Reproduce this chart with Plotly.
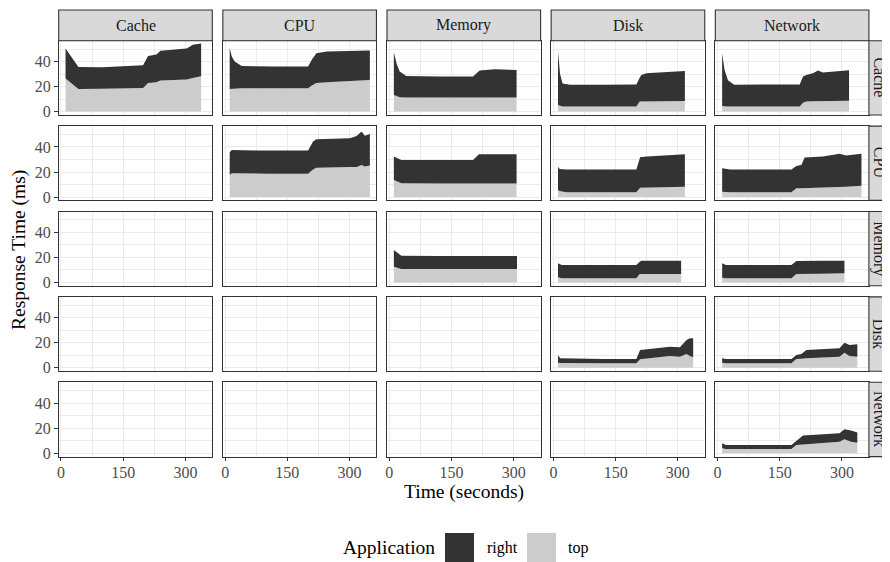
import plotly.graph_objects as go

FACETS = ["Cache", "CPU", "Memory", "Disk", "Network"]
APPS = ["right", "top"]
TIME_TICKS = [0, 150, 300]
TIME_MINOR = [75, 225]
RT_TICKS = [0, 20, 40]
RT_MINOR = [10, 30, 50]

# ---- row "Cache" ----
CACHE_CACHE_T = [11, 20, 42, 100, 150, 198, 210, 230, 240, 303, 318, 338]
CACHE_CACHE_TOP = [26.5, 24.1, 18.1, 18.3, 18.5, 18.9, 22.9, 23.5, 24.8, 25.6, 26.8, 28.3]
CACHE_CACHE_RIGHT = [24.0, 22.1, 17.5, 17.2, 18.0, 18.1, 21.6, 22.1, 23.8, 24.9, 26.7, 26.2]

CACHE_CPU_T = [11, 16, 23, 40, 120, 200, 210, 220, 245, 300, 349]
CACHE_CPU_TOP = [18.1, 18.3, 18.5, 18.7, 18.7, 18.7, 21.0, 22.8, 23.5, 24.3, 25.3]
CACHE_CPU_RIGHT = [32.6, 25.7, 21.5, 17.8, 17.3, 17.3, 21.0, 23.9, 24.5, 24.2, 23.5]

CACHE_MEMORY_T = [11, 18, 25, 41, 120, 202, 218, 254, 307]
CACHE_MEMORY_TOP = [13.3, 12.3, 11.5, 11.2, 11.2, 11.2, 11.2, 11.2, 11.2]
CACHE_MEMORY_RIGHT = [33.9, 25.7, 20.5, 17.3, 16.8, 16.8, 21.6, 22.7, 22.1]

CACHE_DISK_T = [11, 16, 22, 40, 120, 200, 208, 212, 224, 317]
CACHE_DISK_TOP = [5.3, 4.5, 4.0, 4.0, 4.0, 4.0, 8.0, 8.0, 8.2, 8.5]
CACHE_DISK_RIGHT = [42.7, 25.5, 18.5, 17.5, 17.5, 17.7, 19.0, 21.3, 22.5, 24.0]

CACHE_NETWORK_T = [11, 17, 25, 40, 120, 198, 206, 214, 230, 242, 254, 317]
CACHE_NETWORK_TOP = [4.5, 4.2, 4.0, 4.0, 4.0, 4.0, 7.0, 8.0, 8.2, 8.3, 8.3, 8.7]
CACHE_NETWORK_RIGHT = [42.1, 28.8, 21.0, 17.5, 17.6, 17.6, 21.0, 21.3, 22.5, 24.5, 22.9, 24.3]

# ---- row "CPU" ----
CPU_CPU_T = [11, 16, 100, 200, 212, 220, 301, 317, 329, 337, 349]
CPU_CPU_TOP = [17.6, 19.0, 18.7, 18.7, 22.0, 23.5, 24.0, 24.0, 25.6, 24.4, 25.2]
CPU_CPU_RIGHT = [18.2, 18.6, 18.4, 18.4, 22.3, 22.7, 22.9, 24.8, 26.7, 24.5, 25.2]

CPU_MEMORY_T = [11, 29, 120, 202, 216, 260, 307]
CPU_MEMORY_TOP = [13.6, 11.0, 10.9, 10.9, 10.9, 10.9, 10.9]
CPU_MEMORY_RIGHT = [18.7, 18.6, 18.7, 18.7, 23.3, 23.5, 23.3]

CPU_DISK_T = [11, 15, 30, 120, 200, 209, 225, 317]
CPU_DISK_TOP = [5.6, 4.8, 3.8, 3.8, 3.8, 7.5, 7.6, 8.3]
CPU_DISK_RIGHT = [18.7, 17.6, 18.3, 18.3, 18.3, 24.3, 24.7, 25.9]

CPU_NETWORK_T = [11, 30, 178, 190, 202, 210, 254, 294, 310, 347]
CPU_NETWORK_TOP = [4.3, 3.8, 3.8, 7.0, 7.1, 7.2, 7.5, 7.8, 8.2, 9.1]
CPU_NETWORK_RIGHT = [18.7, 18.3, 18.3, 17.8, 18.5, 24.3, 24.8, 26.7, 25.0, 25.4]

# ---- row "Memory" ----
MEMORY_MEMORY_T = [11, 29, 120, 200, 308]
MEMORY_MEMORY_TOP = [12.6, 10.8, 10.8, 10.8, 10.8]
MEMORY_MEMORY_RIGHT = [13.4, 10.6, 10.4, 10.6, 10.4]

MEMORY_DISK_T = [11, 20, 120, 200, 208, 212, 308]
MEMORY_DISK_TOP = [4.1, 3.3, 3.3, 3.3, 6.8, 6.8, 6.8]
MEMORY_DISK_RIGHT = [11.2, 10.7, 10.7, 10.7, 9.7, 10.6, 10.6]

MEMORY_NETWORK_T = [11, 20, 178, 190, 250, 306]
MEMORY_NETWORK_TOP = [3.8, 3.3, 3.3, 6.8, 7.0, 7.3]
MEMORY_NETWORK_RIGHT = [11.5, 10.7, 10.7, 10.4, 10.4, 10.1]

# ---- row "Disk" ----
DISK_DISK_T = [11, 16, 120, 200, 209, 249, 281, 305, 321, 329, 337]
DISK_DISK_TOP = [4.1, 3.8, 3.6, 3.6, 6.8, 8.0, 9.5, 8.9, 11.1, 9.5, 8.4]
DISK_DISK_RIGHT = [6.2, 3.8, 3.5, 3.5, 7.5, 7.6, 7.4, 7.5, 11.2, 14.1, 15.2]

DISK_NETWORK_T = [11, 20, 178, 190, 202, 214, 294, 306, 318, 337]
DISK_NETWORK_TOP = [4.1, 3.6, 3.6, 7.1, 7.3, 7.6, 8.9, 12.1, 9.5, 8.9]
DISK_NETWORK_RIGHT = [3.5, 3.5, 3.5, 3.2, 3.8, 6.7, 6.7, 8.0, 8.8, 9.9]

# ---- row "Network" ----
NETWORK_NETWORK_T = [11, 20, 178, 190, 206, 294, 306, 322, 337]
NETWORK_NETWORK_TOP = [3.9, 3.3, 3.3, 6.6, 7.0, 9.2, 11.1, 9.2, 8.4]
NETWORK_NETWORK_RIGHT = [4.0, 3.3, 3.3, 3.5, 7.1, 6.7, 8.0, 8.9, 8.1]

PANELS = {
    ("Cache", "Cache"): (CACHE_CACHE_T, CACHE_CACHE_TOP, CACHE_CACHE_RIGHT),
    ("Cache", "CPU"): (CACHE_CPU_T, CACHE_CPU_TOP, CACHE_CPU_RIGHT),
    ("Cache", "Memory"): (CACHE_MEMORY_T, CACHE_MEMORY_TOP, CACHE_MEMORY_RIGHT),
    ("Cache", "Disk"): (CACHE_DISK_T, CACHE_DISK_TOP, CACHE_DISK_RIGHT),
    ("Cache", "Network"): (CACHE_NETWORK_T, CACHE_NETWORK_TOP, CACHE_NETWORK_RIGHT),
    ("CPU", "CPU"): (CPU_CPU_T, CPU_CPU_TOP, CPU_CPU_RIGHT),
    ("CPU", "Memory"): (CPU_MEMORY_T, CPU_MEMORY_TOP, CPU_MEMORY_RIGHT),
    ("CPU", "Disk"): (CPU_DISK_T, CPU_DISK_TOP, CPU_DISK_RIGHT),
    ("CPU", "Network"): (CPU_NETWORK_T, CPU_NETWORK_TOP, CPU_NETWORK_RIGHT),
    ("Memory", "Memory"): (MEMORY_MEMORY_T, MEMORY_MEMORY_TOP, MEMORY_MEMORY_RIGHT),
    ("Memory", "Disk"): (MEMORY_DISK_T, MEMORY_DISK_TOP, MEMORY_DISK_RIGHT),
    ("Memory", "Network"): (MEMORY_NETWORK_T, MEMORY_NETWORK_TOP, MEMORY_NETWORK_RIGHT),
    ("Disk", "Disk"): (DISK_DISK_T, DISK_DISK_TOP, DISK_DISK_RIGHT),
    ("Disk", "Network"): (DISK_NETWORK_T, DISK_NETWORK_TOP, DISK_NETWORK_RIGHT),
    ("Network", "Network"): (NETWORK_NETWORK_T, NETWORK_NETWORK_TOP, NETWORK_NETWORK_RIGHT),
}

# ---------------- styling / layout ----------------
PAGE_OFF = 8          # default body margin of the html page
W, H = 890 - PAGE_OFF, 562 - PAGE_OFF
FONT = "Liberation Serif"
DARK = "#333333"
LIGHT = "#CCCCCC"
GRID = "#EBEBEB"
BORDER = "#333333"
STRIP_FILL = "#D9D9D9"

COL_LEFT0, COL_STEP, PANEL_W = 58.7, 164.15, 153.6
ROW_TOP0, ROW_STEP, PANEL_H = 40.7, 85.4, 74.3
STRIP_TOP = 10.0
RIGHT_STRIP_W = 22.0


def px_x(p):
    return (p - PAGE_OFF) / W


def px_y(p):
    return 1 - (p - PAGE_OFF) / H


fig = go.Figure()
layout = dict(
    width=W, height=H,
    margin=dict(l=0, r=0, t=0, b=0),
    paper_bgcolor="white", plot_bgcolor="white",
    showlegend=False,
    font=dict(family=FONT, size=16, color="#4D4D4D"),
)

shapes = []
annotations = []

for r, row_name in enumerate(FACETS):
    for c, col_name in enumerate(FACETS):
        n = r * 5 + c + 1
        xname = "xaxis" if n == 1 else f"xaxis{n}"
        yname = "yaxis" if n == 1 else f"yaxis{n}"
        xref = "x" if n == 1 else f"x{n}"
        yref = "y" if n == 1 else f"y{n}"
        left = COL_LEFT0 + COL_STEP * c
        right = left + PANEL_W
        top = ROW_TOP0 + ROW_STEP * r
        bottom = top + PANEL_H
        bottom_row = r == 4
        left_col = c == 0
        layout[xname] = dict(
            domain=[px_x(left), px_x(right)], anchor=yref,
            range=[-5.5, 364.9], tickmode="array", tickvals=TIME_TICKS,
            ticktext=[str(v) for v in TIME_TICKS],
            showticklabels=bottom_row, ticks="outside" if bottom_row else "",
            ticklen=3.7, tickwidth=1.1, tickcolor=BORDER, ticklabelstandoff=-3,
            tickfont=dict(family=FONT, size=16, color="#4D4D4D"),
            showgrid=True, gridcolor=GRID, gridwidth=1.4,
            minor=dict(tickvals=TIME_MINOR, showgrid=True, gridcolor=GRID, gridwidth=0.7, ticks=""),
            zeroline=False, showline=True, mirror=True, linecolor=BORDER, linewidth=1.1,
            automargin=False, fixedrange=True,
        )
        layout[yname] = dict(
            domain=[px_y(bottom), px_y(top)], anchor=xref,
            range=[-2.7, 56.7], tickmode="array", tickvals=RT_TICKS,
            ticktext=[str(v) for v in RT_TICKS],
            showticklabels=left_col, ticks="outside" if left_col else "",
            ticklen=3.7, tickwidth=1.1, tickcolor=BORDER,
            tickfont=dict(family=FONT, size=16, color="#4D4D4D"),
            showgrid=True, gridcolor=GRID, gridwidth=1.4,
            minor=dict(tickvals=RT_MINOR, showgrid=True, gridcolor=GRID, gridwidth=0.7, ticks=""),
            zeroline=False, showline=True, mirror=True, linecolor=BORDER, linewidth=1.1,
            automargin=False, fixedrange=True,
        )
        key = (row_name, col_name)
        if key in PANELS:
            t, top_v, right_v = PANELS[key]
            fig.add_trace(go.Scatter(
                x=t, y=top_v, name="top", stackgroup=f"s{n}", mode="lines",
                line=dict(width=0, color=LIGHT), fillcolor=LIGHT,
                xaxis=xref, yaxis=yref, hoverinfo="skip",
            ))
            fig.add_trace(go.Scatter(
                x=t, y=right_v, name="right", stackgroup=f"s{n}", mode="lines",
                line=dict(width=0, color=DARK), fillcolor=DARK,
                xaxis=xref, yaxis=yref, hoverinfo="skip",
            ))
        else:
            # empty facet: still needs its axes drawn
            fig.add_trace(go.Scatter(
                x=[None], y=[None], mode="lines", showlegend=False,
                xaxis=xref, yaxis=yref, hoverinfo="skip",
            ))

# top strips
for c, name in enumerate(FACETS):
    left = COL_LEFT0 + COL_STEP * c
    right = left + PANEL_W
    shapes.append(dict(type="rect", xref="paper", yref="paper",
                       x0=px_x(left), x1=px_x(right), y0=px_y(ROW_TOP0), y1=px_y(STRIP_TOP),
                       fillcolor=STRIP_FILL, line=dict(color=BORDER, width=1.1), layer="above"))
    annotations.append(dict(text=name, xref="paper", yref="paper",
                            x=px_x((left + right) / 2), y=px_y((STRIP_TOP + ROW_TOP0) / 2),
                            xanchor="center", yanchor="middle", showarrow=False,
                            font=dict(family=FONT, size=16, color="#1A1A1A")))

# right strips
rs_left = COL_LEFT0 + COL_STEP * 4 + PANEL_W
for r, name in enumerate(FACETS):
    top = ROW_TOP0 + ROW_STEP * r
    bottom = top + PANEL_H
    shapes.append(dict(type="rect", xref="paper", yref="paper",
                       x0=px_x(rs_left), x1=px_x(rs_left + RIGHT_STRIP_W),
                       y0=px_y(bottom), y1=px_y(top),
                       fillcolor=STRIP_FILL, line=dict(color=BORDER, width=1.1), layer="above"))
    annotations.append(dict(text=name, xref="paper", yref="paper",
                            x=px_x(rs_left + 10.5), y=px_y((top + bottom) / 2),
                            xanchor="center", yanchor="middle", showarrow=False, textangle=90,
                            font=dict(family=FONT, size=16, color="#1A1A1A")))

# axis titles
annotations.append(dict(text="Response Time (ms)", xref="paper", yref="paper",
                        x=px_x(19), y=px_y(250), xanchor="center", yanchor="middle",
                        showarrow=False, textangle=-90,
                        font=dict(family=FONT, size=19.5, color="black")))
annotations.append(dict(text="Time (seconds)", xref="paper", yref="paper",
                        x=px_x(464), y=px_y(492), xanchor="center", yanchor="middle",
                        showarrow=False, font=dict(family=FONT, size=19.5, color="black")))

# legend
annotations.append(dict(text="Application", xref="paper", yref="paper",
                        x=px_x(340.5), y=px_y(547.5), xanchor="left", yanchor="middle",
                        showarrow=False, font=dict(family=FONT, size=19.5, color="black")))
LEG_KEYS = [(445, DARK, APPS[0], 485), (527, LIGHT, APPS[1], 566)]
for kx, col, label, tx in LEG_KEYS:
    shapes.append(dict(type="rect", xref="paper", yref="paper",
                       x0=px_x(kx), x1=px_x(kx + 29), y0=px_y(562.5), y1=px_y(533),
                       fillcolor=col, line=dict(width=0)))
    annotations.append(dict(text=label, xref="paper", yref="paper",
                            x=px_x(tx), y=px_y(547.5), xanchor="left", yanchor="middle",
                            showarrow=False, font=dict(family=FONT, size=16, color="black")))

layout["shapes"] = shapes
layout["annotations"] = annotations
fig.update_layout(**layout)
fig.write_html("out.html")
